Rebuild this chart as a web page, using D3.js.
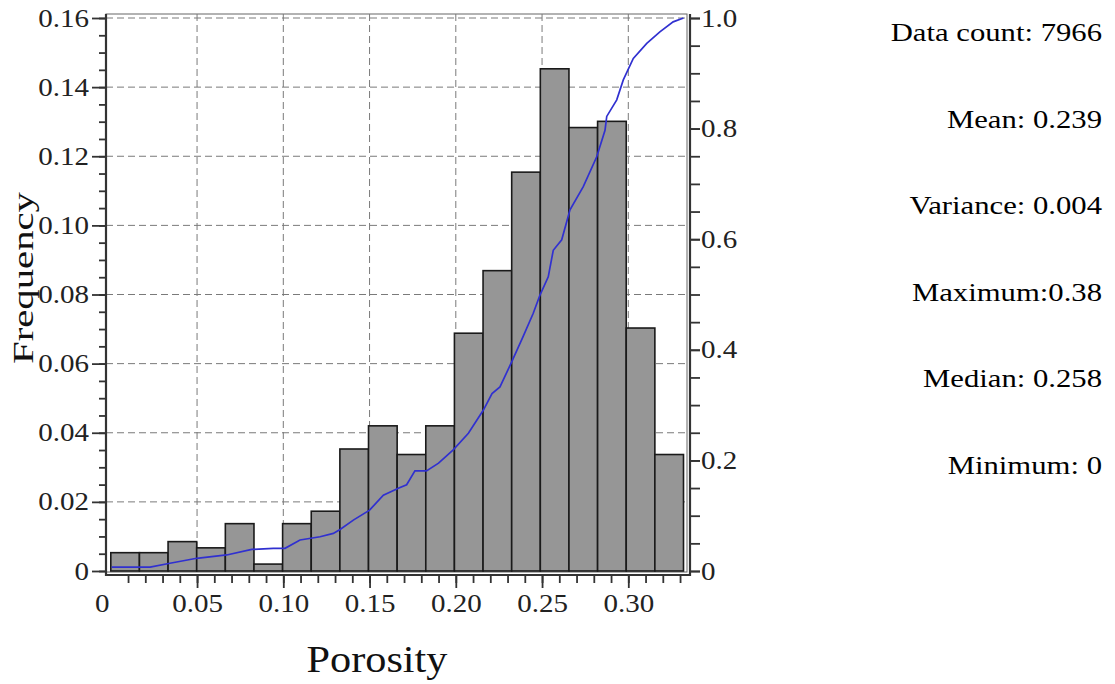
<!DOCTYPE html>
<html><head><meta charset="utf-8">
<script src="https://cdn.jsdelivr.net/npm/d3@7"></script>
<style>
body{margin:0;background:#fff}
svg{display:block}
text{font-family:"Liberation Serif","Times New Roman",serif}
</style>
</head><body>
<svg id="c" width="1115" height="684"></svg>
<script>
// ---------- data ----------
const binEdges = [0, 0.0166, 0.0332, 0.0498, 0.0664, 0.083, 0.0996, 0.1162, 0.1328, 0.1494, 0.166,
  0.1826, 0.1992, 0.2158, 0.2324, 0.249, 0.2656, 0.2822, 0.2988, 0.3154, 0.332];
const frequency = [0.0053, 0.0053, 0.0085, 0.0067, 0.0137, 0.0020, 0.0137, 0.0173, 0.0353, 0.0420,
  0.0337, 0.0420, 0.0688, 0.0869, 0.1154, 0.1453, 0.1283, 0.1301, 0.0703, 0.0337];
const cumPorosity = [0.0005, 0.0228, 0.0343, 0.0498, 0.0672, 0.0817, 0.0942, 0.101, 0.1097, 0.1213,
  0.129, 0.1329, 0.1406, 0.150, 0.158, 0.167, 0.1715, 0.1763, 0.183, 0.190, 0.1985, 0.2073, 0.216,
  0.221, 0.2256, 0.2324, 0.239, 0.2449, 0.2488, 0.2536, 0.2565, 0.2614, 0.2662, 0.2739, 0.2817,
  0.2865, 0.2875, 0.2933, 0.2971, 0.3029, 0.3107, 0.3183, 0.326, 0.332];
const cumFraction = [0.007, 0.007, 0.014, 0.023, 0.029, 0.039, 0.041, 0.041, 0.056, 0.062,
  0.068, 0.075, 0.092, 0.110, 0.137, 0.150, 0.156, 0.181, 0.181, 0.195, 0.219, 0.249, 0.291,
  0.321, 0.333, 0.378, 0.424, 0.466, 0.499, 0.532, 0.580, 0.599, 0.653, 0.695, 0.749,
  0.797, 0.822, 0.852, 0.888, 0.927, 0.954, 0.975, 0.993, 1.0];
const freqMajorTicks = [0, 0.02, 0.04, 0.06, 0.08, 0.10, 0.12, 0.14, 0.16];
const freqTickLabels = ["0", "0.02", "0.04", "0.06", "0.08", "0.10", "0.12", "0.14", "0.16"];
const porosityMajorTicks = [0, 0.05, 0.10, 0.15, 0.20, 0.25, 0.30];
const porosityTickLabels = ["0", "0.05", "0.10", "0.15", "0.20", "0.25", "0.30"];
const cumMajorTicks = [0, 0.2, 0.4, 0.6, 0.8, 1.0];
const cumTickLabels = ["0", "0.2", "0.4", "0.6", "0.8", "1.0"];
const statLabels = ["Data count: 7966", "Mean: 0.239", "Variance: 0.004", "Maximum:0.38", "Median: 0.258", "Minimum: 0"];
const xTitle = "Porosity";
const yTitle = "Frequency";

// ---------- layout ----------
const frame = {left: 106, top: 14, right: 687, bottom: 572};
const axisBottomY = 575, axisRightX = 690;
const STRETCH = 1.16;

const svg = d3.select("#c");
const x = d3.scaleLinear().domain([0, 0.30]).range([110.8, 628.3]);
const y = d3.scaleLinear().domain([0, 0.16]).range([571, 18]);
const yc = d3.scaleLinear().domain([0, 1]).range([571, 18]);

const freqMinor = d3.range(0, 33).map(i => +(i * 0.005).toFixed(3));
const porMinor = d3.range(1, 34).map(i => +(i * 0.01).toFixed(2));
const cumMinor = d3.range(0, 21).map(i => +(i * 0.05).toFixed(2));

function stretch(sel, f) {
  sel.each(function () {
    const l = this.getComputedTextLength();
    d3.select(this).attr("textLength", l * f).attr("lengthAdjust", "spacingAndGlyphs");
  });
}

// inner frame
svg.append("rect").attr("x", frame.left).attr("y", frame.top)
  .attr("width", frame.right - frame.left).attr("height", frame.bottom - frame.top)
  .attr("fill", "none").attr("stroke", "#666").attr("stroke-width", 1);

// grid
const grid = svg.append("g").attr("stroke", "#7a7a7a").attr("stroke-width", 1).attr("stroke-dasharray", "7,4");
grid.selectAll("line.h").data(freqMajorTicks.filter(d => d > 0)).join("line")
  .attr("x1", frame.left).attr("x2", frame.right)
  .attr("y1", d => y(d)).attr("y2", d => y(d));
grid.selectAll("line.v").data(porosityMajorTicks.filter(d => d > 0)).join("line")
  .attr("x1", d => x(d)).attr("x2", d => x(d))
  .attr("y1", frame.top).attr("y2", frame.bottom);

// bars
svg.append("g").selectAll("rect").data(frequency).join("rect")
  .attr("x", (d, i) => x(binEdges[i]))
  .attr("width", (d, i) => x(binEdges[i + 1]) - x(binEdges[i]))
  .attr("y", d => y(d))
  .attr("height", d => y(0) - y(d))
  .attr("fill", "#969696").attr("stroke", "#1a1a1a").attr("stroke-width", 1.6);

// cumulative line
const line = d3.line().x(d => x(d[0])).y(d => yc(d[1]));
svg.append("path").datum(cumPorosity.map((p, i) => [p, cumFraction[i]]))
  .attr("d", line).attr("fill", "none").attr("stroke", "#3030d0").attr("stroke-width", 1.7);

// axis lines
const axLine = svg.append("g").attr("stroke", "#333").attr("stroke-width", 2.2);
axLine.append("line").attr("x1", frame.left).attr("x2", frame.left).attr("y1", frame.top).attr("y2", axisBottomY + 1);
axLine.append("line").attr("x1", frame.left - 1).attr("x2", axisRightX + 1).attr("y1", axisBottomY).attr("y2", axisBottomY);
axLine.append("line").attr("x1", axisRightX).attr("x2", axisRightX).attr("y1", frame.top).attr("y2", axisBottomY + 1);

function styleAxis(g) {
  g.select(".domain").remove();
  g.selectAll(".tick line").attr("stroke", "#333").attr("stroke-width", 1.8);
  g.selectAll(".tick text").attr("fill", "#222").style("font-size", "25px")
    .style("font-family", '"Liberation Serif","Times New Roman",serif');
}

// left axis
svg.append("g").attr("transform", `translate(${frame.left},0)`)
  .call(d3.axisLeft(y).tickValues(freqMinor).tickSize(7).tickFormat("")).call(styleAxis);
const gl = svg.append("g").attr("transform", `translate(${frame.left},0)`)
  .call(d3.axisLeft(y).tickValues(freqMajorTicks).tickSize(14).tickPadding(3)
    .tickFormat((d, i) => freqTickLabels[i])).call(styleAxis);
stretch(gl.selectAll(".tick text"), STRETCH);

// bottom axis
svg.append("g").attr("transform", `translate(0,${axisBottomY})`)
  .call(d3.axisBottom(x).tickValues(porMinor).tickSize(8).tickFormat("")).call(styleAxis);
const gb = svg.append("g").attr("transform", `translate(0,${axisBottomY})`)
  .call(d3.axisBottom(x).tickValues(porosityMajorTicks).tickSize(13).tickPadding(6)
    .tickFormat((d, i) => porosityTickLabels[i])).call(styleAxis);
const zeroTick = gb.selectAll(".tick").filter(d => d === 0);
zeroTick.select("line").remove();
zeroTick.select("text").attr("dx", -9);
stretch(gb.selectAll(".tick text"), STRETCH);

// right axis
svg.append("g").attr("transform", `translate(${axisRightX},0)`)
  .call(d3.axisRight(yc).tickValues(cumMinor).tickSize(10).tickFormat("")).call(styleAxis);
const gr = svg.append("g").attr("transform", `translate(${axisRightX},0)`)
  .call(d3.axisRight(yc).tickValues(cumMajorTicks).tickSize(10).tickPadding(1)
    .tickFormat((d, i) => cumTickLabels[i])).call(styleAxis);
stretch(gr.selectAll(".tick text"), STRETCH);

// titles
svg.append("text").attr("x", 377).attr("y", 672).attr("text-anchor", "middle")
  .style("font-size", "38px").attr("fill", "#111").text(xTitle)
  .attr("textLength", 141).attr("lengthAdjust", "spacingAndGlyphs");
svg.append("text").attr("transform", "translate(33,278) rotate(-90)").attr("text-anchor", "middle")
  .style("font-size", "30px").attr("fill", "#111").text(yTitle)
  .attr("textLength", 172).attr("lengthAdjust", "spacingAndGlyphs");

// stats
const st = svg.append("g").selectAll("text").data(statLabels).join("text")
  .attr("x", 1102).attr("y", (d, i) => 41 + i * 86.6).attr("text-anchor", "end")
  .style("font-size", "26px").attr("fill", "#000").text(d => d);
stretch(st, 1.18);
</script>
</body></html>
